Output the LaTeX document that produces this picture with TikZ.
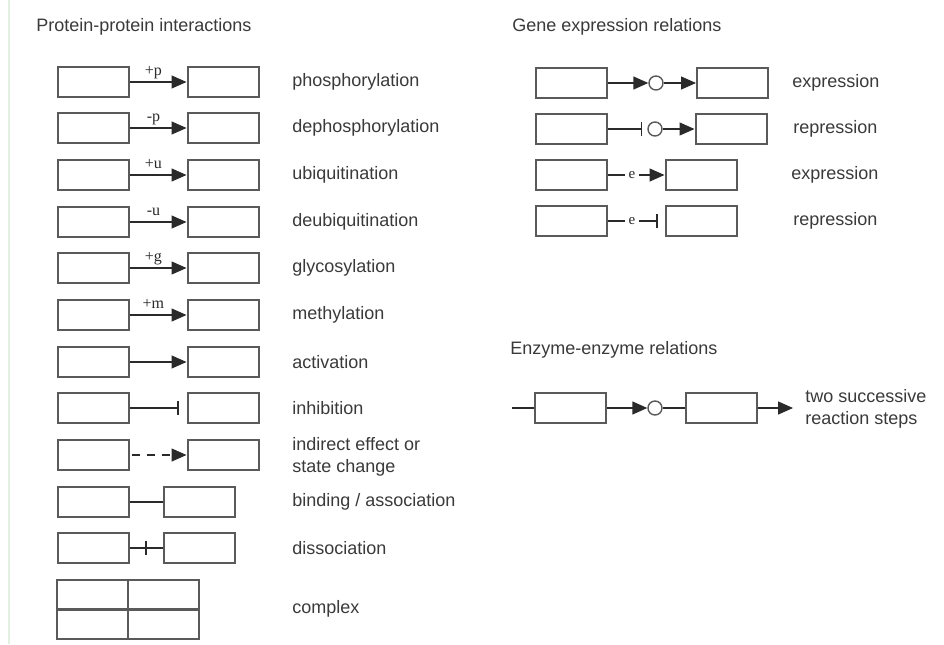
\documentclass[tikz,border=0pt]{standalone}
\usepackage{fontspec}
\setmainfont{Liberation Sans}
\newfontfamily\markfont{Liberation Serif}
\usetikzlibrary{arrows.meta,positioning}
\definecolor{txtgrey}{HTML}{3A3A3A}
\definecolor{boxgrey}{HTML}{5A5A5A}
\definecolor{lineink}{HTML}{2A2A2A}
\definecolor{railgreen}{HTML}{E2F0E2}
\tikzset{
  protbox/.style={draw=boxgrey,line width=1pt,minimum width=35.5pt,minimum height=14.75pt,inner sep=0pt},
  link/.style={draw=lineink,line width=.7pt},
  act/.style={link,-{Triangle[length=7.5pt,width=6.5pt]}},
  inh/.style={link,-{Bar[width=7pt]}},
  hub/.style={circle,draw=boxgrey,line width=.7pt,minimum size=7pt,inner sep=0pt},
  modlabel/.style={font=\markfont\fontsize{8}{9}\selectfont,anchor=base,inner sep=0pt,yshift=3.5pt,text=lineink},
  modmark/.style={font=\markfont\fontsize{7.5}{8}\selectfont,inner sep=1.4pt,text=lineink},
  caption/.style={anchor=west,text=txtgrey,align=left,inner sep=0pt},
}

\begin{document}
\begin{tikzpicture}[x=.5pt,y=-.5pt,font=\fontsize{9}{11}\selectfont]
\useasboundingbox[fill=white] (0,0) rectangle (944,644);
\draw[railgreen,line width=1pt] (9,0) -- (9,644);
% titles
\node[caption] (ppi) at (36,27) {Protein-protein interactions};
\node[caption] (gex) at (512,27) {Gene expression relations};
\node[caption] (enz) at (510,350) {Enzyme-enzyme relations};
% protein-protein interactions
\node[protbox] (p1a) at (93,82) {};
\node[protbox] (p1b) at (223,82) {};
\draw[act] (p1a) -- node[modlabel,pos=.42] {+p} (p1b);
\node[caption] (p1t) at (292,82) {phosphorylation};
\node[protbox] (p2a) at (93,128) {};
\node[protbox] (p2b) at (223,128) {};
\draw[act] (p2a) -- node[modlabel,pos=.42] {-p} (p2b);
\node[caption] (p2t) at (292,128) {dephosphorylation};
\node[protbox] (p3a) at (93,175) {};
\node[protbox] (p3b) at (223,175) {};
\draw[act] (p3a) -- node[modlabel,pos=.42] {+u} (p3b);
\node[caption] (p3t) at (292,175) {ubiquitination};
\node[protbox] (p4a) at (93,222) {};
\node[protbox] (p4b) at (223,222) {};
\draw[act] (p4a) -- node[modlabel,pos=.42] {-u} (p4b);
\node[caption] (p4t) at (292,222) {deubiquitination};
\node[protbox] (p5a) at (93,268) {};
\node[protbox] (p5b) at (223,268) {};
\draw[act] (p5a) -- node[modlabel,pos=.42] {+g} (p5b);
\node[caption] (p5t) at (292,268) {glycosylation};
\node[protbox] (p6a) at (93,315) {};
\node[protbox] (p6b) at (223,315) {};
\draw[act] (p6a) -- node[modlabel,pos=.42] {+m} (p6b);
\node[caption] (p6t) at (292,315) {methylation};
\node[protbox] (p7a) at (93,362) {};
\node[protbox] (p7b) at (223,362) {};
\draw[act] (p7a) -- (p7b);
\node[caption] (p7t) at (292,362) {activation};
\node[protbox] (p8a) at (93,408) {};
\node[protbox] (p8b) at (223,408) {};
\draw[inh,shorten >=4pt] (p8a) -- (p8b);
\node[caption] (p8t) at (292,408) {inhibition};
\node[protbox] (p9a) at (93,455) {};
\node[protbox] (p9b) at (223,455) {};
\draw[act,dash pattern=on 4pt off 3.5pt,dash phase=-1pt] (p9a) -- (p9b);
\node[caption] (p9t) at (292,457) {indirect effect or\\state change};
\node[protbox] (p10a) at (93,502) {};
\node[protbox] (p10b) at (199.5,502) {};
\draw[link] (p10a) -- (p10b);
\node[caption] (p10t) at (292,502) {binding / association};
\node[protbox] (p11a) at (93,548) {};
\node[protbox] (p11b) at (199,548) {};
\draw[link] (p11a) -- coordinate[midway] (p11m) (p11b);
\draw[link] ([yshift=3.5pt]p11m) -- ([yshift=-3.5pt]p11m);
\node[caption] (p11t) at (292,548) {dissociation};
% complex
\node[protbox] (cx1) at (92.5,594.5) {};
\node[protbox] (cx2) at (163.5,594.5) {};
\node[protbox] (cx3) at (92.5,624.5) {};
\node[protbox] (cx4) at (163.5,624.5) {};
\node[caption] (cxt) at (292,609) {complex};
% gene expression relations
\node[protbox] (g1a) at (571.5,83) {};
\node[hub] (h1) at (656,83) {};
\node[protbox] (g1b) at (732.5,83) {};
\draw[act] (g1a) -- (h1);
\draw[act] (h1) -- (g1b);
\node[caption] (g1t) at (792,83) {expression};
\node[protbox] (g2a) at (571.5,129) {};
\node[hub] (h2) at (655,129) {};
\node[protbox] (g2b) at (731,129) {};
\draw[inh,shorten >=2.5pt] (g2a) -- (h2);
\draw[act] (h2) -- (g2b);
\node[caption] (g2t) at (793,129) {repression};
\node[protbox] (g3a) at (571.5,175) {};
\node[modmark] (e3) at (632,175) {e};
\node[protbox] (g3b) at (701,175) {};
\draw[link] (g3a) -- (e3);
\draw[act] (e3) -- (g3b);
\node[caption] (g3t) at (791,175) {expression};
\node[protbox] (g4a) at (571.5,221) {};
\node[modmark] (e4) at (632,221) {e};
\node[protbox] (g4b) at (701,221) {};
\draw[link] (g4a) -- (e4);
\draw[inh,shorten >=3.5pt] (e4) -- (g4b);
\node[caption] (g4t) at (793,221) {repression};
% enzyme-enzyme relations
\coordinate (en0) at (512,408);
\node[protbox] (n1) at (570.5,408) {};
\node[hub] (h5) at (655,408) {};
\node[protbox] (n2) at (721.5,408) {};
\coordinate (en9) at (793,408);
\draw[link] (en0) -- (n1);
\draw[act] (n1) -- (h5);
\draw[link] (h5) -- (n2);
\draw[act] (n2) -- (en9);
\node[caption] (nt) at (805,409) {two successive\\reaction steps};
\end{tikzpicture}
\end{document}
